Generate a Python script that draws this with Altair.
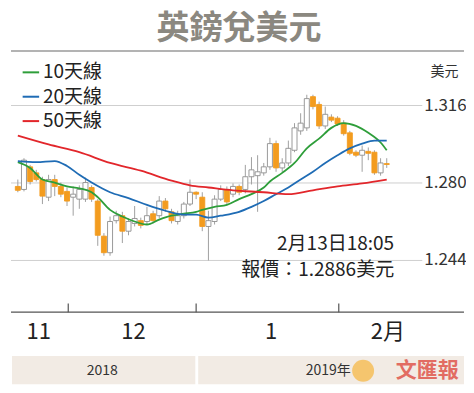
import altair as alt
import pandas as pd

# ---------------- data ----------------
idx = list(range(61))
opens = [1.2784, 1.2770, 1.2875, 1.2847, 1.2816, 1.2734, 1.2816, 1.2784, 1.2761, 1.2734,
         1.2725, 1.2725, 1.2779, 1.2716, 1.2553, 1.2476, 1.2625, 1.2648, 1.2576, 1.2612,
         1.2625, 1.2621, 1.2657, 1.2648, 1.2716, 1.2666, 1.2621, 1.2648, 1.2702, 1.2757,
         1.2734, 1.2598, 1.2621, 1.2725, 1.2770, 1.2748, 1.2784, 1.2770, 1.2829, 1.2834,
         1.2847, 1.2875, 1.2983, 1.2870, 1.2893, 1.2952, 1.3042, 1.3056, 1.3201, 1.3165,
         1.3065, 1.3106, 1.3101, 1.3078, 1.3033, 1.2943, 1.2929, 1.2947, 1.2943, 1.2847,
         1.2890]
highs = [1.2816, 1.2915, 1.2884, 1.2861, 1.2829, 1.2838, 1.2838, 1.2802, 1.2779, 1.2784,
         1.2789, 1.2825, 1.2789, 1.2725, 1.2567, 1.2644, 1.2671, 1.2666, 1.2635, 1.2693,
         1.2639, 1.2689, 1.2671, 1.2739, 1.2730, 1.2680, 1.2671, 1.2712, 1.2816, 1.2761,
         1.2757, 1.2671, 1.2743, 1.2789, 1.2784, 1.2798, 1.2793, 1.2884, 1.2920, 1.2929,
         1.2893, 1.3010, 1.2997, 1.2915, 1.2997, 1.3078, 1.3124, 1.3210, 1.3210, 1.3178,
         1.3155, 1.3119, 1.3110, 1.3092, 1.3042, 1.2952, 1.2974, 1.2965, 1.2952, 1.2915,
         1.2915]
lows = [1.2757, 1.2761, 1.2793, 1.2807, 1.2702, 1.2716, 1.2739, 1.2734, 1.2693, 1.2648,
        1.2680, 1.2712, 1.2712, 1.2508, 1.2462, 1.2462, 1.2612, 1.2521, 1.2557, 1.2598,
        1.2589, 1.2607, 1.2612, 1.2635, 1.2666, 1.2612, 1.2607, 1.2635, 1.2693, 1.2725,
        1.2576, 1.2440, 1.2607, 1.2716, 1.2698, 1.2734, 1.2743, 1.2752, 1.2793, 1.2666,
        1.2834, 1.2861, 1.2852, 1.2852, 1.2879, 1.2943, 1.3024, 1.3042, 1.3142, 1.3051,
        1.3051, 1.3083, 1.3065, 1.3020, 1.2929, 1.2920, 1.2852, 1.2906, 1.2838, 1.2834,
        1.2870]
closes = [1.2766, 1.2906, 1.2807, 1.2816, 1.2739, 1.2816, 1.2784, 1.2748, 1.2716, 1.2748,
          1.2770, 1.2802, 1.2725, 1.2557, 1.2476, 1.2621, 1.2648, 1.2576, 1.2621, 1.2635,
          1.2603, 1.2648, 1.2625, 1.2716, 1.2680, 1.2625, 1.2648, 1.2702, 1.2757, 1.2748,
          1.2598, 1.2625, 1.2725, 1.2770, 1.2712, 1.2784, 1.2757, 1.2829, 1.2861, 1.2852,
          1.2875, 1.2983, 1.2870, 1.2893, 1.2961, 1.3056, 1.3078, 1.3192, 1.3155, 1.3065,
          1.3119, 1.3092, 1.3074, 1.3029, 1.2938, 1.2929, 1.2952, 1.2938, 1.2847, 1.2893,
          1.2886]

ma10_idx = [0, 2, 4, 6, 8, 10, 12, 13, 15, 17, 19, 21, 23, 25, 27, 29, 30, 32, 34, 36,
            38, 40, 41, 43, 45, 47, 49, 51, 53, 55, 57, 59, 60]
ma10_val = [1.2897, 1.2870, 1.2816, 1.2802, 1.2784, 1.2775, 1.2757, 1.2734, 1.2675, 1.2644,
            1.2621, 1.2607, 1.2630, 1.2648, 1.2657, 1.2666, 1.2675, 1.2689, 1.2698, 1.2725,
            1.2748, 1.2779, 1.2807, 1.2847, 1.2893, 1.2961, 1.3006, 1.3056, 1.3078, 1.3065,
            1.3033, 1.2988, 1.2952]
ma20_idx = [0, 3, 6, 8, 10, 12, 15, 18, 21, 24, 27, 29, 31, 33, 36, 38, 40, 42, 44, 46,
            48, 50, 52, 54, 56, 58, 60]
ma20_val = [1.2902, 1.2897, 1.2902, 1.2879, 1.2838, 1.2802, 1.2757, 1.2730, 1.2698, 1.2671,
            1.2653, 1.2653, 1.2639, 1.2648, 1.2666, 1.2689, 1.2716, 1.2748, 1.2779, 1.2816,
            1.2852, 1.2893, 1.2929, 1.2961, 1.2983, 1.2997, 1.2997]
ma50_idx = [0, 5, 10, 15, 20, 25, 28, 31, 35, 40, 44, 48, 52, 56, 60]
ma50_val = [1.3020, 1.2979, 1.2943, 1.2893, 1.2857, 1.2811, 1.2789, 1.2779, 1.2766, 1.2757,
            1.2748, 1.2766, 1.2784, 1.2798, 1.2816]

series_names = ["10天線", "20天線", "50天線"]
series_colors = ["#2e9e3a", "#1f6cb5", "#e2262b"]

y_ticks = [1.316, 1.280, 1.244]
y_tick_labels = ["1.316", "1.280", "1.244"]
month_pos = [3.4, 18.8, 41.2, 60.2]
month_labels = ["11", "12", "1", "2月"]
month_ticks = [8.2, 29.0, 52.2]
title_text = "英鎊兌美元"
note_lines = ["2月13日18:05", "報價：1.2886美元"]
years = ["2018", "2019年"]

# ---------------- layout helpers (reference pixels -> chart pixels) ----------------
W, H = 458, 377
def px(rx):
    return (rx - 3) * 0.97 + 3
def py(ry):
    return (ry - 4) * 0.975

xs = alt.Scale(domain=[-0.786, 72.08], nice=False, zero=False)
ys = alt.Scale(domain=[1.18614, 1.3613], nice=False, zero=False)
NARROW = "Liberation Sans Narrow, Noto Sans CJK TC"
CJK = "Noto Sans CJK TC"

candles = pd.DataFrame({"i": idx, "open": opens, "high": highs, "low": lows, "close": closes})
candles["dir"] = ["up" if c >= o else "down" for o, c in zip(opens, closes)]

ma = pd.concat([
    pd.DataFrame({"s": series_names[0], "i": ma10_idx, "v": ma10_val}),
    pd.DataFrame({"s": series_names[1], "i": ma20_idx, "v": ma20_val}),
    pd.DataFrame({"s": series_names[2], "i": ma50_idx, "v": ma50_val}),
], ignore_index=True)

band = alt.Chart(pd.DataFrame({"x": [px(4), px(196)], "x2": [px(193), px(470)]})).mark_rect(
    color="#f2ebe4").encode(
    x=alt.X("x:Q", scale=None, axis=None), x2="x2:Q",
    y=alt.value(py(361)), y2=alt.value(py(390)))

year_txt = alt.Chart(pd.DataFrame({"x": [px(97), px(330)], "t": years})).mark_text(
    font=NARROW, fontSize=14, color="#333333").encode(
    x=alt.X("x:Q", scale=None, axis=None), y=alt.value(py(376)), text="t:N")

grid = alt.Chart(pd.DataFrame({"v": y_ticks})).mark_rule(color="#cfcfcf", strokeWidth=1).encode(
    y=alt.Y("v:Q", scale=ys, axis=None), x=alt.value(3), x2=alt.value(px(427)))

ylab = alt.Chart(pd.DataFrame({"v": y_ticks, "t": y_tick_labels})).mark_text(
    font=NARROW, fontSize=17, align="left", color="#333333").encode(
    y=alt.Y("v:Q", scale=ys, axis=None), x=alt.value(px(429)), text="t:N")

wicks = alt.Chart(candles).mark_rule(color="#a0a0a0", strokeWidth=1).encode(
    x=alt.X("i:Q", scale=xs, axis=None),
    y=alt.Y("low:Q", scale=ys, axis=None), y2="high:Q")

bodies = alt.Chart(candles).mark_bar(size=5, strokeWidth=0.9).encode(
    x=alt.X("i:Q", scale=xs, axis=None),
    y=alt.Y("open:Q", scale=ys, axis=None), y2="close:Q",
    fill=alt.Fill("dir:N", scale=alt.Scale(domain=["up", "down"], range=["#ffffff", "#f39c1f"]), legend=None),
    stroke=alt.Stroke("dir:N", scale=alt.Scale(domain=["up", "down"], range=["#8f8f8f", "#f39c1f"]), legend=None))

lines = alt.Chart(ma).mark_line(strokeWidth=1.8, interpolate="monotone").encode(
    x=alt.X("i:Q", scale=xs, axis=None),
    y=alt.Y("v:Q", scale=ys, axis=None),
    color=alt.Color("s:N", scale=alt.Scale(domain=series_names, range=series_colors), legend=None),
    detail="s:N")

title = alt.Chart(pd.DataFrame({"t": [title_text]})).mark_text(
    font=CJK, fontSize=33, fontWeight="bold", color="#8b8880").encode(
    x=alt.value(px(238)), y=alt.value(21), text="t:N")

sep = alt.Chart(pd.DataFrame({"a": [0]})).mark_rule(color="#9a9a9a", strokeWidth=1.5).encode(
    x=alt.value(3), x2=alt.value(px(470)), y=alt.value(py(48)))

leg_df = pd.DataFrame({"y": [py(70), py(95), py(120)], "c": series_colors, "t": series_names})
leg_lines = alt.Chart(leg_df).mark_rule(strokeWidth=2).encode(
    x=alt.value(px(15)), x2=alt.value(px(32)),
    y=alt.Y("y:Q", scale=None, axis=None), color=alt.Color("c:N", scale=None))
leg_txt = alt.Chart(leg_df).mark_text(font=NARROW, fontSize=19, align="left", color="#222222").encode(
    x=alt.value(px(36)), y=alt.Y("y:Q", scale=None, axis=None), text="t:N")

unit = alt.Chart(pd.DataFrame({"t": ["美元"]})).mark_text(font=CJK, fontSize=14, color="#333333").encode(
    x=alt.value(px(450)), y=alt.value(py(70)), text="t:N")

note = alt.Chart(pd.DataFrame({"y": [py(246), py(273)], "t": note_lines})).mark_text(
    font=NARROW, fontSize=19, align="right", color="#222222").encode(
    x=alt.value(px(398)), y=alt.Y("y:Q", scale=None, axis=None), text="t:N")

axis_line = alt.Chart(pd.DataFrame({"a": [0]})).mark_rule(color="#555555", strokeWidth=1.2).encode(
    x=alt.value(3), x2=alt.value(px(470)), y=alt.value(py(316)))
axis_ticks = alt.Chart(pd.DataFrame({"i": month_ticks})).mark_rule(color="#555555", strokeWidth=1.2).encode(
    x=alt.X("i:Q", scale=xs, axis=None), y=alt.value(py(307)), y2=alt.value(py(316)))
month_txt = alt.Chart(pd.DataFrame({"i": month_pos, "t": month_labels})).mark_text(
    font=NARROW, fontSize=22, color="#222222").encode(
    x=alt.X("i:Q", scale=xs, axis=None), y=alt.value(py(336)), text="t:N")

logo_c = alt.Chart(pd.DataFrame({"a": [0]})).mark_circle(size=480, color="#f6b847", opacity=0.75).encode(
    x=alt.value(px(366)), y=alt.value(py(376)))
logo_t = alt.Chart(pd.DataFrame({"t": ["文匯報"]})).mark_text(
    font=CJK, fontSize=21, fontWeight="bold", color="#e0564c", opacity=0.85).encode(
    x=alt.value(px(432)), y=alt.value(py(376)), text="t:N")

# white strip on top, hiding a stray edge at the very left of the canvas
cover = alt.Chart(pd.DataFrame({"a": [0]})).mark_rect(color="#ffffff").encode(
    x=alt.value(-2), x2=alt.value(2.3), y=alt.value(-2), y2=alt.value(H + 2))

chart = alt.layer(
    band, year_txt, grid, ylab, wicks, bodies, lines, title, sep, leg_lines, leg_txt,
    unit, note, axis_line, axis_ticks, month_txt, logo_c, logo_t, cover
).properties(
    width=W, height=H, padding=0, background="#ffffff",
    autosize=alt.AutoSizeParams(type="none")
).configure_view(
    stroke="transparent", strokeWidth=0, fill="transparent"
).configure_axis(
    domain=False, ticks=False, labels=False, grid=False
)

chart.save("out.html", embed_options={"renderer": "svg", "actions": False})
